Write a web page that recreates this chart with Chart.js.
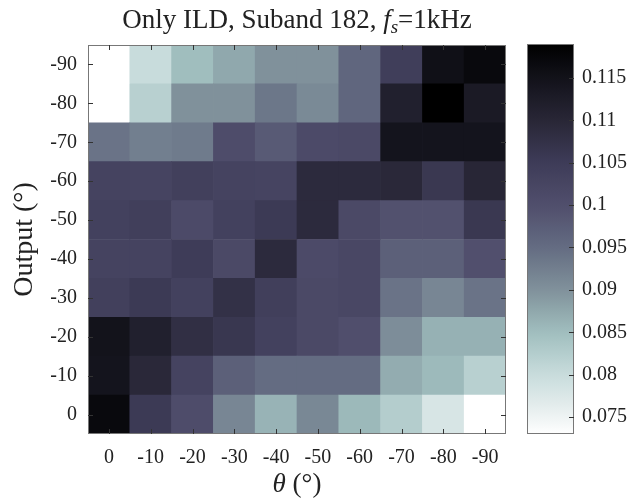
<!DOCTYPE html>
<html>
<head>
<meta charset="utf-8">
<script src="https://cdn.jsdelivr.net/npm/chart.js@4.4.1/dist/chart.umd.min.js"></script>
<style>
  body { margin: 0; background: #fff; }
  #wrap { position: relative; width: 639px; height: 501px; }
  #heat { position: absolute; left: 0; top: 0; }
  #cbar { position: absolute; left: 500px; top: 0; }
</style>
</head>
<body>
<div id="wrap">
  <canvas id="heat" width="520" height="501"></canvas>
  <canvas id="cbar" width="139" height="501"></canvas>
</div>
<script>
// theta columns, left to right
const thetaLabels = ["0", "-10", "-20", "-30", "-40", "-50", "-60", "-70", "-80", "-90"];
// output rows, top to bottom
const outputLabels = ["-90", "-80", "-70", "-60", "-50", "-40", "-30", "-20", "-10", "0"];

// cell values, one row per output (top to bottom), one entry per theta
const cellValues = [
  [0.073, 0.080, 0.085, 0.0875, 0.090, 0.090, 0.096, 0.1045, 0.1155, 0.117],
  [0.073, 0.082, 0.090, 0.090, 0.0935, 0.091, 0.096, 0.1115, 0.119, 0.113],
  [0.094, 0.0925, 0.093, 0.1005, 0.098, 0.101, 0.1015, 0.1145, 0.1145, 0.1145],
  [0.103, 0.1028, 0.104, 0.103, 0.1028, 0.109, 0.109, 0.1095, 0.106, 0.110],
  [0.1035, 0.1042, 0.101, 0.1035, 0.1055, 0.109, 0.1015, 0.0995, 0.0995, 0.106],
  [0.103, 0.103, 0.105, 0.1015, 0.109, 0.101, 0.102, 0.097, 0.097, 0.0998],
  [0.104, 0.1055, 0.1035, 0.1075, 0.1042, 0.1015, 0.102, 0.094, 0.0915, 0.094],
  [0.1148, 0.1115, 0.108, 0.1062, 0.1035, 0.1015, 0.100, 0.0905, 0.0865, 0.0865],
  [0.1145, 0.1095, 0.103, 0.097, 0.095, 0.095, 0.095, 0.087, 0.0855, 0.082],
  [0.117, 0.1055, 0.1005, 0.0915, 0.0862, 0.0912, 0.0856, 0.0825, 0.078, 0.073]
];

// colour bar range and ticks
const cMin = 0.073;
const cMax = 0.119;
const cbarTicks = [0.075, 0.08, 0.085, 0.09, 0.095, 0.1, 0.105, 0.11, 0.115];
const cbarTickLabels = ["0.075", "0.08", "0.085", "0.09", "0.095", "0.1", "0.105", "0.11", "0.115"];

// colormap stops (value position 0..1 -> rgb), light to dark
const cmapStops = [
  [0.0, [255, 255, 255]],
  [0.043, [238, 243, 243]],
  [0.152, [200, 220, 220]],
  [0.261, [160, 190, 190]],
  [0.370, [128, 145, 155]],
  [0.478, [100, 108, 130]],
  [0.587, [80, 78, 108]],
  [0.696, [62, 60, 88]],
  [0.804, [40, 38, 54]],
  [0.913, [18, 18, 26]],
  [1.0, [0, 0, 0]]
];

const serif = "'Liberation Serif', 'DejaVu Serif', serif";
const textColor = "#222";
const frameColor = "#777";

function colorAt(n) {
  n = Math.max(0, Math.min(1, n));
  for (let i = 1; i < cmapStops.length; i++) {
    const [p1, c1] = cmapStops[i];
    const [p0, c0] = cmapStops[i - 1];
    if (n <= p1) {
      const f = (n - p0) / (p1 - p0);
      const c = c0.map((v, k) => Math.round(v + (c1[k] - v) * f));
      return `rgb(${c[0]},${c[1]},${c[2]})`;
    }
  }
  return "rgb(0,0,0)";
}

function colorFor(value) {
  return colorAt((value - cMin) / (cMax - cMin));
}

// frame round the plot area, with short inward ticks
const frameTicks = {
  id: "frameTicks",
  afterDraw(chart, args, opts) {
    const { ctx, chartArea: a } = chart;
    const len = 5;
    ctx.save();
    ctx.strokeStyle = frameColor;
    ctx.lineWidth = 1;
    ctx.strokeRect(a.left + 0.5, a.top + 0.5, a.width - 1, a.height - 1);
    ctx.strokeStyle = "#333";
    ctx.beginPath();
    if (opts.xTicks) {
      const xs = chart.scales.x;
      xs.ticks.forEach((t, i) => {
        const px = Math.round(xs.getPixelForTick(i)) + 0.5;
        ctx.moveTo(px, a.bottom); ctx.lineTo(px, a.bottom - len);
        ctx.moveTo(px, a.top); ctx.lineTo(px, a.top + len);
      });
    }
    const ys = chart.scales.y;
    ys.ticks.forEach((t, i) => {
      const py = Math.round(ys.getPixelForTick(i)) + 0.5;
      if (opts.left) { ctx.moveTo(a.left, py); ctx.lineTo(a.left + len, py); }
      ctx.moveTo(a.right, py); ctx.lineTo(a.right - len, py);
    });
    ctx.stroke();
    ctx.restore();
  }
};

// title with subscript, axis titles with italic theta
const titles = {
  id: "titles",
  afterDraw(chart) {
    const { ctx, chartArea: a } = chart;
    const cx = (a.left + a.right) / 2;
    ctx.save();
    ctx.fillStyle = textColor;
    ctx.textBaseline = "alphabetic";
    ctx.textAlign = "left";

    const parts = [
      { t: "Only ILD, Suband 182, ", f: `27px ${serif}`, dy: 0 },
      { t: "f", f: `italic 27px ${serif}`, dy: 0 },
      { t: "s", f: `italic 19px ${serif}`, dy: 5 },
      { t: "=1kHz", f: `27px ${serif}`, dy: 0 }
    ];
    let w = 0;
    parts.forEach(p => { ctx.font = p.f; w += ctx.measureText(p.t).width; });
    let x = cx - w / 2;
    parts.forEach(p => {
      ctx.font = p.f;
      ctx.fillText(p.t, x, 28 + p.dy);
      x += ctx.measureText(p.t).width;
    });

    const xParts = [
      { t: "θ", f: `italic 27px ${serif}` },
      { t: " (°)", f: `27px ${serif}` }
    ];
    w = 0;
    xParts.forEach(p => { ctx.font = p.f; w += ctx.measureText(p.t).width; });
    x = cx - w / 2;
    xParts.forEach(p => {
      ctx.font = p.f;
      ctx.fillText(p.t, x, 492);
      x += ctx.measureText(p.t).width;
    });

    ctx.translate(25, (a.top + a.bottom) / 2);
    ctx.rotate(-Math.PI / 2);
    ctx.font = `28px ${serif}`;
    ctx.textAlign = "center";
    ctx.textBaseline = "middle";
    ctx.fillText("Output (°)", 0, 0);
    ctx.restore();
  }
};

// rows drawn bottom-up so row index i spans [i, i+1] on the y scale
const rowsBottomUp = cellValues.slice().reverse();
const labelsBottomUp = outputLabels.slice().reverse();

new Chart(document.getElementById("heat"), {
  type: "bar",
  data: {
    labels: thetaLabels,
    datasets: rowsBottomUp.map((row, i) => ({
      label: labelsBottomUp[i],
      data: row.map(() => [i, i + 1]),
      backgroundColor: row.map(colorFor),
      borderColor: row.map(colorFor),
      borderWidth: 0,
      grouped: false,
      barPercentage: 1,
      categoryPercentage: 1
    }))
  },
  options: {
    responsive: false,
    animation: false,
    layout: { padding: { left: 0, right: 14, top: 45, bottom: 0 } },
    plugins: { legend: { display: false }, tooltip: { enabled: false }, frameTicks: { xTicks: true, left: true } },
    scales: {
      x: {
        offset: true,
        grid: { display: false, drawTicks: false },
        border: { display: false },
        ticks: { color: textColor, font: { family: serif, size: 20 }, padding: 12 },
        afterFit: (s) => { s.height = 67; }
      },
      y: {
        min: 0,
        max: 10,
        grid: { display: false, drawTicks: false },
        border: { display: false },
        afterBuildTicks: (s) => { s.ticks = labelsBottomUp.map((_, i) => ({ value: i + 0.5 })); },
        ticks: {
          color: textColor,
          font: { family: serif, size: 20 },
          padding: 11,
          callback: (v) => labelsBottomUp[Math.floor(v)]
        },
        afterFit: (s) => { s.width = 88; }
      }
    }
  },
  plugins: [frameTicks, titles]
});

function cbarGradient(context) {
  const { chart } = context;
  const a = chart.chartArea;
  if (!a) return null;
  const g = chart.ctx.createLinearGradient(0, a.bottom, 0, a.top);
  for (let k = 0; k <= 40; k++) {
    g.addColorStop(k / 40, colorAt(k / 40));
  }
  return g;
}

new Chart(document.getElementById("cbar"), {
  type: "bar",
  data: {
    labels: [""],
    datasets: [{
      data: [[cMin, cMax]],
      backgroundColor: cbarGradient,
      borderWidth: 0,
      barPercentage: 1,
      categoryPercentage: 1
    }]
  },
  options: {
    responsive: false,
    animation: false,
    layout: { padding: { left: 27, right: 0, top: 44, bottom: 67 } },
    plugins: { legend: { display: false }, tooltip: { enabled: false }, frameTicks: { xTicks: false, left: false } },
    scales: {
      x: { display: false },
      y: {
        position: "right",
        min: cMin,
        max: cMax,
        grid: { display: false, drawTicks: false },
        border: { display: false },
        afterBuildTicks: (s) => { s.ticks = cbarTicks.map(v => ({ value: v })); },
        ticks: {
          color: textColor,
          font: { family: serif, size: 20 },
          padding: 8,
          callback: (v, i) => cbarTickLabels[i]
        },
        afterFit: (s) => { s.width = 65; }
      }
    }
  },
  plugins: [frameTicks]
});
</script>
</body>
</html>
